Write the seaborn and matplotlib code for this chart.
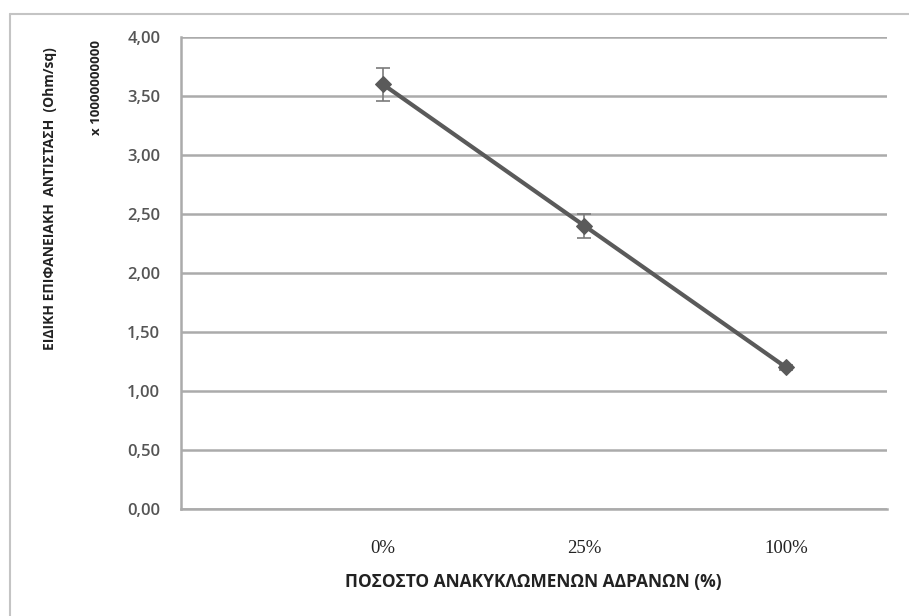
import matplotlib
matplotlib.use("Agg")
import matplotlib.pyplot as plt
from matplotlib.lines import Line2D
import numpy as np
import pandas as pd
import seaborn as sns

# Surface resistivity vs. share of recycled aggregates
categories = ["0%", "25%", "100%"]
resistivity = [3.60, 2.40, 1.20]        # x 1e10 Ohm/sq
resistivity_err = [0.14, 0.10, 0.02]
y_ticks = [0.0, 0.5, 1.0, 1.5, 2.0, 2.5, 3.0, 3.5, 4.0]

y_title = "ΕΙΔΙΚΗ ΕΠΙΦΑΝΕΙΑΚΗ  ΑΝΤΙΣΤΑΣΗ  (Ohm/sq)"
y_scale = "x 10000000000"
x_title = "ΠΟΣΟΣΤΟ ΑΝΑΚΥΚΛΩΜΕΝΩΝ ΑΔΡΑΝΩΝ (%)"

sns.set_theme(style="white")
plt.rcParams["font.family"] = ["Open Sans", "DejaVu Sans"]

W, H = 909, 616
fig = plt.figure(figsize=(W / 100, H / 100), dpi=100)
ax = fig.add_axes([181 / W, 1 - 509 / H, 706 / W, 472 / H])

# category slots: the axis holds 7 slots, the data sits on every second tick
n_slots = 7
pos = [2 * (i + 1) for i in range(len(categories))]
df = pd.DataFrame({"pos": pos, "value": resistivity, "err": resistivity_err})

line_col = "#5a5a5a"
ax.errorbar(df["pos"], df["value"], yerr=df["err"], fmt="none",
            ecolor="#7a7a7a", elinewidth=1.2, capsize=5, capthick=1.2, zorder=3)
sns.lineplot(data=df, x="pos", y="value", ax=ax, color=line_col, linewidth=3.0,
             marker="D", markersize=8, markeredgecolor=line_col,
             markerfacecolor=line_col, zorder=4)

ax.set_xlim(0, n_slots)
ax.set_ylim(0, 4.0)
ax.set_xticks(range(n_slots + 1))
labels = [""] * (n_slots + 1)
for p, c in zip(pos, categories):
    labels[p] = c
ax.set_xticklabels(labels, fontfamily="Liberation Serif", fontsize=13.5, color="#222222")
ax.set_yticks(y_ticks)
ax.set_yticklabels([f"{v:.2f}".replace(".", ",") for v in y_ticks],
                   fontsize=12, color="#555555", fontweight="semibold")

ax.grid(axis="y", color="#ababab", linewidth=1.8)
ax.grid(axis="x", visible=False)
ax.set_axisbelow(True)
for side in ["top", "right"]:
    ax.spines[side].set_visible(False)
for side in ["left", "bottom"]:
    ax.spines[side].set_color("#ababab")
    ax.spines[side].set_linewidth(1.8)
ax.tick_params(axis="both", direction="out", length=5, width=1.5, color="#ababab")
ax.tick_params(axis="x", pad=17)
ax.tick_params(axis="y", pad=10)
ax.set_xlabel("")
ax.set_ylabel("")

# axis titles
fig.text(50 / W, 1 - 47 / H, y_title, rotation=90, ha="center", va="top",
         fontsize=10, fontweight="bold", color="#222222")
fig.text(97 / W, 1 - 40 / H, y_scale, rotation=90, ha="center", va="top",
         fontsize=9.5, fontweight="bold", color="#222222")
fig.text(533 / W, 1 - 582 / H, x_title, ha="center", va="center",
         fontsize=12.5, fontweight="bold", color="#222222")

# chart frame
frame_col = "#c4c4c4"
fig.add_artist(Line2D([10 / W, 10 / W], [0, 1 - 14 / H], transform=fig.transFigure,
                      color=frame_col, linewidth=1.5))
fig.add_artist(Line2D([10 / W, 1], [1 - 14 / H, 1 - 14 / H], transform=fig.transFigure,
                      color=frame_col, linewidth=1.5))

fig.savefig("out.png", dpi=100, facecolor="white")
